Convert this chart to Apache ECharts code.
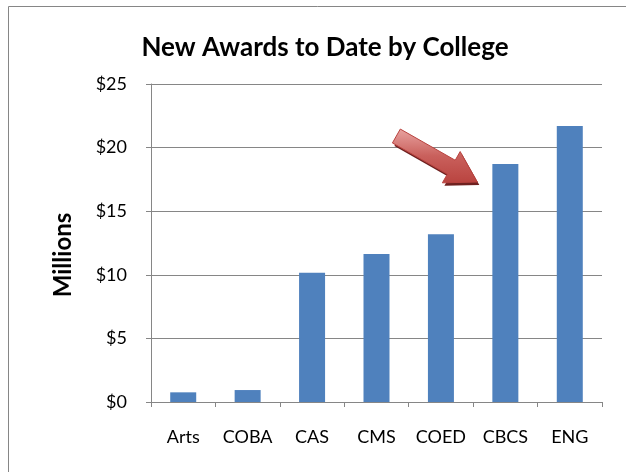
<!DOCTYPE html>
<html>
<head>
<meta charset="utf-8">
<script src="https://cdn.jsdelivr.net/npm/echarts@6/dist/echarts.min.js"></script>
<style>
  html, body { margin: 0; padding: 0; background: #fff; }
  #chart { width: 626px; height: 472px; }
</style>
</head>
<body>
<div id="chart"></div>
<script>
// data (millions of dollars)
const colleges = ['Arts', 'COBA', 'CAS', 'CMS', 'COED', 'CBCS', 'ENG'];
const awards = [0.76, 0.94, 10.17, 11.64, 13.18, 18.71, 21.7];
const yTicks = [0, 5, 10, 15, 20, 25];
const highlighted = 'CBCS';

const chart = echarts.init(document.getElementById('chart'));
const font = 'Lato, "Open Sans", sans-serif';

chart.setOption({
  animation: false,
  title: {
    text: 'New Awards to Date by College',
    left: 320, top: 30, textAlign: 'center',
    textStyle: { fontFamily: font, fontSize: 26, fontWeight: 'bold', color: '#000' }
  },
  grid: { left: 151, right: 24, top: 84, bottom: 70 },
  xAxis: {
    type: 'category',
    data: colleges,
    axisLine: { lineStyle: { color: '#868686' } },
    axisTick: { show: true, length: 5, lineStyle: { color: '#868686' } },
    axisLabel: { interval: 0, margin: 26, fontFamily: font, fontSize: 18, color: '#000' }
  },
  yAxis: {
    type: 'value',
    min: yTicks[0], max: yTicks[yTicks.length - 1], interval: 5,
    axisLine: { show: true, lineStyle: { color: '#868686' } },
    axisTick: { show: true, length: 5, lineStyle: { color: '#868686' } },
    splitLine: { lineStyle: { color: '#868686' } },
    axisLabel: { margin: 24, fontFamily: font, fontSize: 18, color: '#000',
      formatter: v => '$' + v }
  },
  series: [{
    type: 'bar',
    data: awards,
    barWidth: 26,
    itemStyle: { color: '#4F81BD' }
  }]
});

// arrow pointing at the highlighted bar, placed relative to that bar's top
const idx = colleges.indexOf(highlighted);
const barTop = chart.convertToPixel({ gridIndex: 0 }, [idx, awards[idx]]);
const tail = [barTop[0] - 109, barTop[1] - 28];
const tip = [barTop[0] - 28, barTop[1] + 18];
const dx = tip[0] - tail[0], dy = tip[1] - tail[1];
const len = Math.hypot(dx, dy);
const u = [dx / len, dy / len], n = [-u[1], u[0]];
const neck = [tail[0] + u[0] * (len - 30), tail[1] + u[1] * (len - 30)];
const at = (p, k) => [p[0] + n[0] * k, p[1] + n[1] * k];
const arrowPts = [at(tail, 8), at(neck, 8), at(neck, 18), tip, at(neck, -18), at(neck, -8), at(tail, -8)];
const shifted = arrowPts.map(p => [p[0] + 2, p[1] + 3]);

chart.setOption({
  graphic: [
    { type: 'rect', shape: { x: 8.5, y: 6.5, width: 700, height: 600 },
      style: { fill: 'none', stroke: '#868686', lineWidth: 1 }, silent: true, z: 0 },
    { type: 'text', x: 63, y: 255, rotation: Math.PI / 2,
      style: { text: 'Millions', fontFamily: font, fontSize: 24, fontWeight: 'bold',
        fill: '#000', align: 'center', verticalAlign: 'middle' } },
    { type: 'polygon', shape: { points: shifted },
      style: { fill: '#6E2120' }, z: 10 },
    { type: 'polygon', shape: { points: arrowPts },
      style: {
        fill: new echarts.graphic.LinearGradient(0, 0, 0, 1, [
          { offset: 0, color: '#E8A3A0' },
          { offset: 0.5, color: '#C9605C' },
          { offset: 1, color: '#B9433F' }
        ]),
        stroke: '#B8423E', lineWidth: 1
      }, z: 11 }
  ]
});
</script>
</body>
</html>
